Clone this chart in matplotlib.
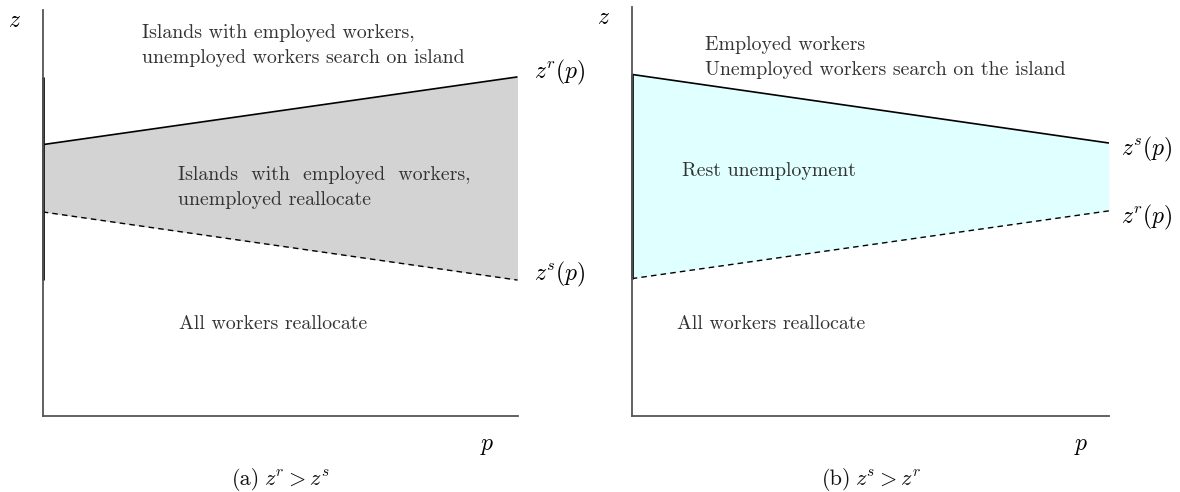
import matplotlib
matplotlib.use("Agg")
import matplotlib.pyplot as plt

plt.rcParams['mathtext.fontset'] = 'cm'
plt.rcParams['axes.unicode_minus'] = False

# data (z values at p=0 and p=1)
p_vals = [0.0, 1.0]
a_zr = [0.668, 0.835]   # solid, panel a
a_zs = [0.502, 0.334]   # dashed, panel a
a_seg = [0.334, 0.835]  # dark segment on z-axis, panel a
b_zs = [0.835, 0.667]   # solid, panel b
b_zr = [0.335, 0.501]   # dashed, panel b

W, H = 1180, 492
fig = plt.figure(figsize=(W / 100, H / 100), dpi=100)

def px_axes(x0, y_top, x1, y_bot):
    return fig.add_axes([x0 / W, (H - y_bot) / H, (x1 - x0) / W, (y_bot - y_top) / H])

txt_kw = dict(fontfamily='cmr10', fontsize=14.3, color='#333333')
spine_col = '#555555'

def style(ax):
    ax.set_xlim(0, 1)
    ax.set_ylim(0, 1)
    for s in ['top', 'right']:
        ax.spines[s].set_visible(False)
    for s in ['left', 'bottom']:
        ax.spines[s].set_color(spine_col)
        ax.spines[s].set_linewidth(1.3)
    ax.set_xticks([])
    ax.set_yticks([])
    ax.patch.set_alpha(0)

LS = 1.5

# Panel a
ax1 = px_axes(42.7, 10, 517.5, 415.5)
style(ax1)
ax1.fill_between(p_vals, a_zs, a_zr, color='#d3d3d3', lw=0)
ax1.plot(p_vals, a_zr, color='black', lw=1.2, solid_capstyle='butt')
ax1.plot(p_vals, a_zs, color='black', lw=1.0, dashes=(4, 3))
ax1.plot([0, 0], a_seg, color='#111111', lw=2.0, clip_on=False, solid_capstyle='butt')
ax1.text(0.21, 0.912, "Islands with employed workers,\nunemployed workers search on island",
         transform=ax1.transAxes, va='center', ha='left', linespacing=LS, **txt_kw)
ax1.text(0.285, 0.562, "Islands  with  employed  workers,\nunemployed reallocate",
         transform=ax1.transAxes, va='center', ha='left', linespacing=LS, **txt_kw)
ax1.text(0.288, 0.2256, "All workers reallocate", transform=ax1.transAxes,
         va='center', ha='left', **txt_kw)
ax1.text(1.035, a_zr[1] + 0.012, r"$z^r(p)$", transform=ax1.transData, va='center', ha='left', fontsize=17)
ax1.text(1.035, a_zs[1] + 0.015, r"$z^s(p)$", transform=ax1.transData, va='center', ha='left', fontsize=17)

# Panel b
ax2 = px_axes(631.7, 7, 1109, 415.5)
style(ax2)
ax2.fill_between(p_vals, b_zr, b_zs, color='#e0ffff', lw=0)
ax2.plot(p_vals, b_zs, color='black', lw=1.2, solid_capstyle='butt')
ax2.plot(p_vals, b_zr, color='black', lw=1.0, dashes=(4, 3))
ax2.plot([0, 0], [b_zr[0], b_zs[0]], color='#111111', lw=2.0, clip_on=False, solid_capstyle='butt')
ax2.text(0.153, 0.876, "Employed workers\nUnemployed workers search on the island",
         transform=ax2.transAxes, va='center', ha='left', linespacing=LS, **txt_kw)
ax2.text(0.105, 0.598, "Rest unemployment", transform=ax2.transAxes,
         va='center', ha='left', **txt_kw)
ax2.text(0.095, 0.225, "All workers reallocate", transform=ax2.transAxes,
         va='center', ha='left', **txt_kw)
ax2.text(1.025, b_zs[1] - 0.015, r"$z^s(p)$", transform=ax2.transData, va='center', ha='left', fontsize=17)
ax2.text(1.025, b_zr[1] - 0.015, r"$z^r(p)$", transform=ax2.transData, va='center', ha='left', fontsize=17)

# axis labels
fig.text(15 / W, 1 - 20 / H, r"$z$", fontsize=17, ha='center', va='center')
fig.text(487 / W, 1 - 445 / H, r"$p$", fontsize=17, ha='center', va='center')
fig.text(604 / W, 1 - 17 / H, r"$z$", fontsize=17, ha='center', va='center')
fig.text(1081 / W, 1 - 445 / H, r"$p$", fontsize=17, ha='center', va='center')

# captions
cap_kw = dict(fontsize=16, ha='right', va='baseline', fontfamily='cmr10', color='#111111')
math_kw = dict(fontsize=16, ha='left', va='baseline', color='#111111')
for x0, lab, m in [(260, "(a)", r"$z^r > z^s$"), (851, "(b)", r"$z^s > z^r$")]:
    fig.text(x0 / W, 1 - 485 / H, lab, **cap_kw)
    fig.text((x0 + 4) / W, 1 - 485 / H, m, **math_kw)

fig.savefig("out.png", dpi=100)
